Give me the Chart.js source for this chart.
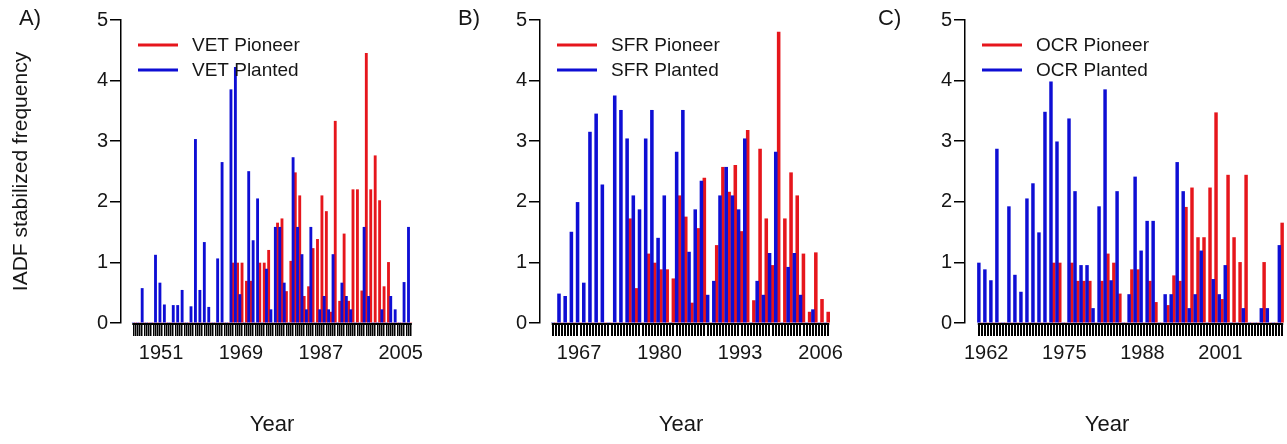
<!DOCTYPE html>
<html>
<head>
<meta charset="utf-8">
<script src="https://cdn.jsdelivr.net/npm/chart.js@4.4.0/dist/chart.umd.min.js"></script>
<style>
html, body { margin: 0; padding: 0; background: #fff; overflow: hidden; width: 1287px; height: 444px; }
canvas { position: absolute; top: 0; }
</style>
</head>
<body>
<canvas id="cA" width="433" height="444" style="left:0px"></canvas>
<canvas id="cB" width="431" height="444" style="left:430px"></canvas>
<canvas id="cC" width="436" height="444" style="left:860px"></canvas>
<script>
// A) VET
var yearsA = [1945,1946,1947,1948,1949,1950,1951,1952,1953,1954,
  1955,1956,1957,1958,1959,1960,1961,1962,1963,1964,
  1965,1966,1967,1968,1969,1970,1971,1972,1973,1974,
  1975,1976,1977,1978,1979,1980,1981,1982,1983,1984,
  1985,1986,1987,1988,1989,1990,1991,1992,1993,1994,
  1995,1996,1997,1998,1999,2000,2001,2002,2003,2004,
  2005,2006,2007];
var plantedA = [0,0,0.57,0,0,1.12,0.66,0.30,0,0.29,
  0.29,0.54,0,0.27,3.03,0.54,1.33,0.26,0,1.06,
  2.65,0,3.85,4.22,0.47,0,2.5,1.36,2.05,0,
  0.89,0.22,1.58,1.58,0.66,0,2.73,1.58,1.13,0.22,
  1.58,0,0.22,0.44,0.22,1.13,0,0.66,0.44,0.22,
  0,0,1.58,0.44,0,0,0.22,0,0.44,0.22,
  0,0.67,1.58];
var pioneerA = [0,0,0,0,0,0,0,0,0,0,
  0,0,0,0,0,0,0,0,0,0,
  0,0,0.99,0.99,0.99,0.69,0.69,0,0.99,0.99,
  1.2,0,1.65,1.72,0.52,1.02,2.48,2.1,0.44,0.6,
  1.23,1.38,2.1,1.84,0.18,3.33,0.36,1.47,0.36,2.2,
  2.2,0.53,4.45,2.2,2.76,2.02,0.6,1.0,0,0,
  0,0,0];
var labelsA = [1951, 1969, 1987, 2005];

// B) SFR
var yearsB = [1963,1964,1965,1966,1967,1968,1969,1970,1971,1972,
  1973,1974,1975,1976,1977,1978,1979,1980,1981,1982,
  1983,1984,1985,1986,1987,1988,1989,1990,1991,1992,
  1993,1994,1995,1996,1997,1998,1999,2000,2001,2002,
  2003,2004,2005,2006,2007];
var plantedB = [0,0.48,0.44,1.5,1.99,0.66,3.15,3.45,2.28,0,
  3.75,3.51,3.04,2.1,1.87,3.04,3.51,1.4,2.1,0,
  2.82,3.51,1.17,1.87,2.34,0.46,0.69,2.1,2.57,2.1,
  1.87,3.04,0,0.69,0.46,1.15,2.82,0,0.92,1.15,
  0.46,0,0.22,0,0];
var pioneerB = [0,0,0,0,0,0,0,0,0,0,
  0,0,1.72,0.57,0,1.14,0.99,0.88,0.88,0.73,
  2.1,1.75,0.33,1.56,2.39,0,1.28,2.57,2.16,2.6,
  1.51,3.18,0.37,2.87,1.72,0.95,4.8,1.72,2.48,2.1,
  1.14,0.18,1.16,0.39,0.18];
var labelsB = [1967, 1980, 1993, 2006];

// C) OCR
var yearsC = [1961,1962,1963,1964,1965,1966,1967,1968,1969,1970,
  1971,1972,1973,1974,1975,1976,1977,1978,1979,1980,
  1981,1982,1983,1984,1985,1986,1987,1988,1989,1990,
  1991,1992,1993,1994,1995,1996,1997,1998,1999,2000,
  2001,2002,2003,2004,2005,2006,2007,2008,2009,2010,
  2011];
var plantedC = [0.99,0.88,0.70,2.87,0,1.92,0.79,0.51,2.05,2.3,
  1.49,3.48,3.98,2.99,0,3.37,2.17,0.95,0.95,0.24,
  1.92,3.85,0.70,2.17,0,0.47,2.41,1.19,1.68,1.68,
  0,0.47,0.47,2.65,2.17,0.24,0.47,1.19,0,0.72,
  0.47,0.95,0,0,0.24,0,0,0.24,0.24,0,
  1.28];
var pioneerC = [0,0,0,0,0,0,0,0,0,0,
  0,0,0.99,0.99,0,0.99,0.69,0.69,0.69,0,
  0.69,1.14,0.99,0.48,0,0.88,0.88,0,0.69,0.34,
  0,0.29,0.78,0.69,1.91,2.23,1.41,1.41,2.23,3.47,
  0.39,2.44,1.41,1.0,2.44,0,0,1.0,0,0,
  1.65];
var labelsC = [1962, 1975, 1988, 2001];

var RED = 'rgb(230,22,28)';
var BLUE = 'rgb(14,14,212)';
var TXT = '#161616';
var FONT = '"Liberation Sans", Arial, Helvetica, sans-serif';

Chart.defaults.font.family = FONT;

// panel letter, legend, x title and the R style axis line (first tick to last tick)
var deco = {
  id: 'deco',
  afterDraw: function(chart, args, o) {
    var ctx = chart.ctx, a = chart.chartArea, x = chart.scales.x, t = x.ticks;
    ctx.save();
    ctx.strokeStyle = '#000';
    ctx.lineWidth = 2.2;
    ctx.beginPath();
    ctx.moveTo(x.getPixelForValue(t[0].value) - 1, a.bottom + 1);
    ctx.lineTo(x.getPixelForValue(t[t.length - 1].value) + 1, a.bottom + 1);
    ctx.stroke();

    ctx.fillStyle = TXT;
    ctx.textBaseline = 'middle';
    ctx.textAlign = 'left';
    ctx.font = '22px ' + FONT;
    ctx.fillText(o.letter, o.letterX, 19);

    ctx.textAlign = 'center';
    ctx.fillText('Year', o.yearX, 425);

    ctx.textAlign = 'left';
    ctx.font = '19px ' + FONT;
    o.items.forEach(function(it, i) {
      var y = 45 + i * 25;
      ctx.strokeStyle = it.color;
      ctx.lineWidth = 3;
      ctx.beginPath();
      ctx.moveTo(a.left + 17, y);
      ctx.lineTo(a.left + 57, y);
      ctx.stroke();
      ctx.fillStyle = TXT;
      ctx.fillText(it.text, a.left + 71, y + 1);
    });
    ctx.restore();
  }
};

function panel(id, site, years, pioneer, planted, labels, yWidth, padRight, yTitle, letterX, yearX, barW, tickW) {
  var pad = 0.04 * years.length;
  var lo = years[0] - 0.5 - pad, hi = years[years.length - 1] + 0.5 + pad;
  return new Chart(document.getElementById(id), {
    type: 'bar',
    data: {
      labels: years,
      datasets: [
        { label: site + ' Planted', data: planted, backgroundColor: BLUE, borderWidth: 0, barThickness: barW },
        { label: site + ' Pioneer', data: pioneer, backgroundColor: RED, borderWidth: 0, barThickness: barW }
      ]
    },
    options: {
      responsive: false,
      animation: false,
      devicePixelRatio: 1,
      layout: { padding: { top: 20, left: 0, right: padRight, bottom: 0 } },
      plugins: {
        legend: { display: false },
        tooltip: { enabled: false },
        deco: {
          letter: id.slice(1) + ')',
          letterX: letterX,
          yearX: yearX,
          items: [
            { text: site + ' Pioneer', color: RED },
            { text: site + ' Planted', color: BLUE }
          ]
        }
      },
      scales: {
        x: {
          type: 'linear',
          bounds: 'data',
          offset: false,
          min: lo,
          max: hi,
          border: { display: false },
          grid: { drawOnChartArea: false, drawTicks: true, tickLength: 13, color: '#000', lineWidth: tickW, offset: false },
          // two evenly spaced ticks per year, one under each bar
          afterBuildTicks: function(s) {
            var t = [];
            years.forEach(function(y) { t.push({ value: y - 0.25 }); t.push({ value: y + 0.25 }); });
            s.ticks = t;
          },
          ticks: {
            autoSkip: false, maxRotation: 0, minRotation: 0, padding: 5,
            labelOffset: 0.25 * 300 / (hi - lo),
            color: TXT, font: { size: 20 },
            callback: function(v, i) {
              if (i % 2) return '';
              var y = years[i / 2];
              return labels.indexOf(y) >= 0 ? String(y) : '';
            }
          },
          title: { display: false },
          afterFit: function(s) { s.height = 121; }
        },
        y: {
          min: 0,
          max: 5,
          ticks: { stepSize: 1, padding: 2, color: TXT, font: { size: 20 } },
          border: { display: true, color: '#000', width: 1.5 },
          grid: { drawOnChartArea: false, drawTicks: true, tickLength: 11, color: '#000', lineWidth: 1.5 },
          title: { display: yTitle, text: 'IADF stabilized frequency', color: TXT, font: { size: 21 }, padding: { top: 9, bottom: 0 } },
          afterFit: function(s) { s.width = yWidth; }
        }
      }
    },
    plugins: [deco]
  });
}

panel('cA', 'VET', yearsA, pioneerA, plantedA, labelsA, 121, 10, true, 19, 272, 2.2, 1.5);
panel('cB', 'SFR', yearsB, pioneerB, plantedB, labelsB, 110, 20, false, 28, 251, 2.9, 2);
panel('cC', 'OCR', yearsC, pioneerC, plantedC, labelsC, 105, 0, false, 18, 247, 2.8, 2);
</script>
</body>
</html>
